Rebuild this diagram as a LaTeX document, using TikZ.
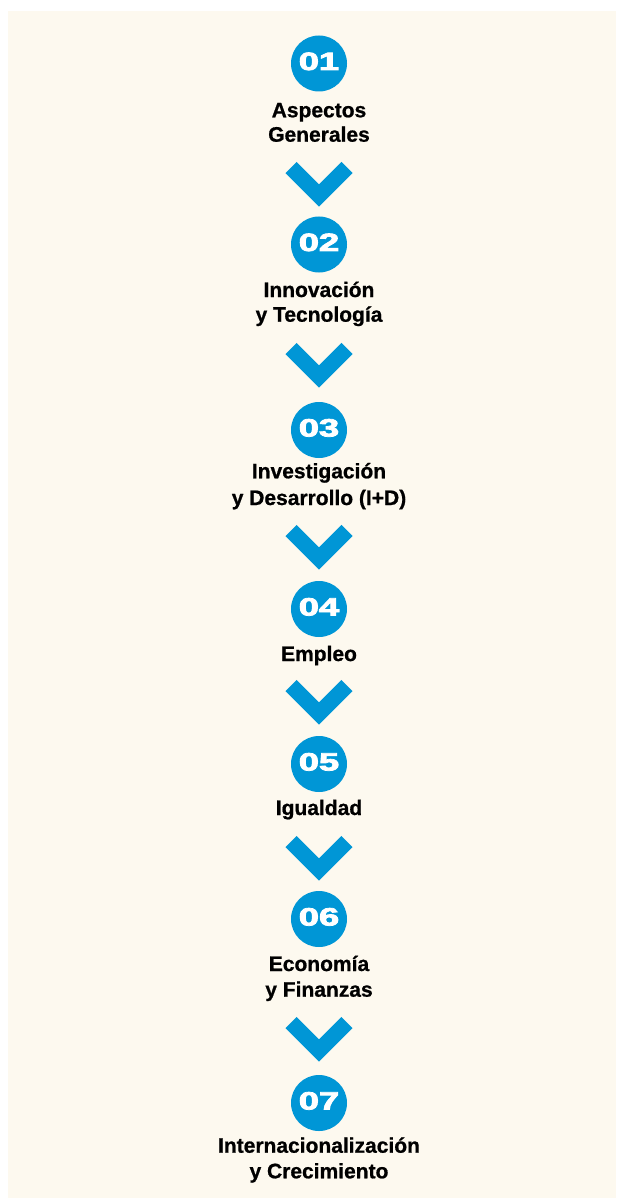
\documentclass[tikz,border=0pt]{standalone}
\usepackage{fontspec}
\setmainfont{Liberation Sans}[BoldFeatures={FakeBold=0.8}]
\newfontfamily\numfont{Liberation Sans Bold}[FakeBold=3]
\definecolor{bluec}{RGB}{0,150,214}
\definecolor{creamc}{RGB}{253,249,239}
\begin{document}
\begin{tikzpicture}[x=1pt,y=-1pt,
  numcirc/.style={circle,fill=bluec,minimum size=56pt,inner sep=0pt},
  numtxt/.style={anchor=base,text=white,inner sep=0pt,font=\numfont\fontsize{25}{25}\selectfont},
  lbl/.style={anchor=base,inner sep=0pt,font=\bfseries\fontsize{21}{25}\selectfont},
  chev/.style={draw=bluec,line width=15.6pt,line cap=butt,line join=miter}]
\fill[white] (0,0) rectangle (616,1198);
\useasboundingbox (0,0) rectangle (616,1198);
\fill[creamc] (8,11) rectangle (616,1198);

% circles with numbers
\node[numcirc] (c1) at (319,63.5) {};
\node[numtxt] (n1) at (319,70) {\scalebox{1.45}[1]{01}};
\node[numcirc] (c2) at (319,244.5) {};
\node[numtxt] (n2) at (319,251) {\scalebox{1.45}[1]{02}};
\node[numcirc] (c3) at (319,430) {};
\node[numtxt] (n3) at (319,436.5) {\scalebox{1.45}[1]{03}};
\node[numcirc] (c4) at (319,609) {};
\node[numtxt] (n4) at (319,615.5) {\scalebox{1.45}[1]{04}};
\node[numcirc] (c5) at (319,764) {};
\node[numtxt] (n5) at (319,770.5) {\scalebox{1.45}[1]{05}};
\node[numcirc] (c6) at (319,919) {};
\node[numtxt] (n6) at (319,925.5) {\scalebox{1.45}[1]{06}};
\node[numcirc] (c7) at (319,1103) {};
\node[numtxt] (n7) at (319,1109.5) {\scalebox{1.45}[1]{07}};

% labels
\node[lbl] (t1a) at (319,117.3) {Aspectos};
\node[lbl] (t1b) at (319,141.7) {Generales};
\node[lbl] (t2a) at (319,297) {Innovación};
\node[lbl] (t2b) at (319,321.7) {y Tecnología};
\node[lbl] (t3a) at (319,478.3) {Investigación};
\node[lbl] (t3b) at (319,505) {y Desarrollo (I+D)};
\node[lbl] (t4a) at (319,661) {Empleo};
\node[lbl] (t5a) at (319,815) {Igualdad};
\node[lbl] (t6a) at (319,971) {Economía};
\node[lbl] (t6b) at (319,996.7) {y Finanzas};
\node[lbl] (t7a) at (319,1152.7) {Internacionalización};
\node[lbl] (t7b) at (319,1178.3) {y Crecimiento};

% chevrons
\coordinate (v1) at (319,195.5);
\coordinate (v2) at (319,376.5);
\coordinate (v3) at (319,558.5);
\coordinate (v4) at (319,713.5);
\coordinate (v5) at (319,869.5);
\coordinate (v6) at (319,1050.5);
\foreach \v in {v1,v2,v3,v4,v5,v6}{
  \draw[chev] ([shift={(-28,-28)}]\v) -- (\v) -- ([shift={(28,-28)}]\v);
}
\end{tikzpicture}
\end{document}
